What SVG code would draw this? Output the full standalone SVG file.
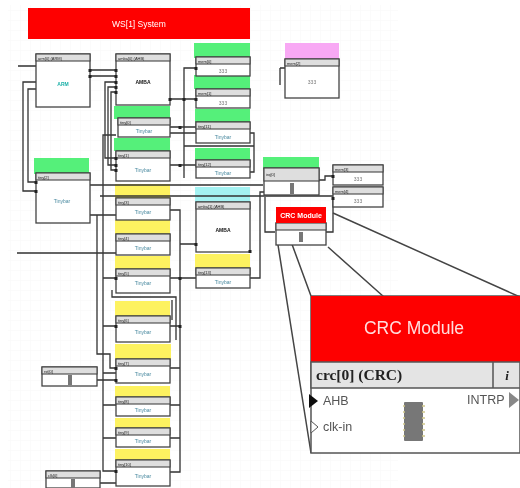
<svg xmlns="http://www.w3.org/2000/svg" width="520" height="488" viewBox="0 0 520 488">
<style>
.b{fill:#fff;stroke:#444;stroke-width:1.300}
.t{fill:#dedede;stroke:#444;stroke-width:1.100}
.c{fill:none;stroke:#333;stroke-width:1.300}
.z{fill:none;stroke:#444;stroke-width:1.500}
.g{fill:#55f07a}.y{fill:#fdf260}.cy{fill:#a4f2f2}.p{fill:#f8a8f4}.r{fill:#fe0000}
.n{font:4px "Liberation Sans",sans-serif;fill:#222}
.m{font:5px "Liberation Sans",sans-serif;fill:#4a8aa0;text-anchor:middle}
.a{font:bold 5px "Liberation Sans",sans-serif;fill:#111;text-anchor:middle}
.q{fill:#777}
.big{font:17.500px "Liberation Sans",sans-serif;fill:#ffdede;text-anchor:middle}
.port{font:12.500px "Liberation Sans",sans-serif;fill:#555}
</style>
<defs>
<filter id="s" x="-2%" y="-2%" width="104%" height="104%"><feGaussianBlur stdDeviation="0.45"/></filter>
<filter id="s2" x="-2%" y="-2%" width="104%" height="104%"><feGaussianBlur stdDeviation="0.35"/></filter>
<pattern id="grid" width="10" height="10" patternUnits="userSpaceOnUse"><path d="M10 0H0V10" fill="none" stroke="#f8f8f8" stroke-width="1"/></pattern>
</defs>
<rect width="520" height="488" fill="#fff"/>
<rect x="8" y="5" width="390" height="483" fill="url(#grid)"/>
<g filter="url(#s)">
<g id="banner"><rect class="r" x="28" y="8" width="222" height="31"/><text x="139" y="27" text-anchor="middle" font-family="Liberation Sans, sans-serif" font-size="8.500" fill="#fff">WS[1] System</text></g>
<g id="bands">
<rect class="g" x="194" y="43" width="56" height="15"/><rect class="g" x="194" y="75" width="56" height="14"/><rect class="g" x="195" y="109" width="55" height="13"/><rect class="g" x="195" y="148" width="55" height="12"/>
<rect class="g" x="114" y="106" width="56" height="13"/><rect class="g" x="114" y="138" width="56" height="13"/><rect class="g" x="34" y="158" width="55" height="16"/><rect class="g" x="263" y="157" width="56" height="12"/>
<rect class="y" x="115" y="184" width="55" height="14"/><rect class="y" x="115" y="220" width="55" height="14"/><rect class="y" x="115" y="256" width="55" height="13"/><rect class="y" x="115" y="301" width="55" height="15"/><rect class="y" x="115" y="344" width="56" height="15"/><rect class="y" x="115" y="386" width="55" height="11"/><rect class="y" x="115" y="418" width="55" height="10"/><rect class="y" x="115" y="449" width="55" height="11"/><rect class="y" x="195" y="254" width="55" height="14"/>
<rect class="cy" x="195" y="187" width="55" height="15"/><rect class="p" x="285" y="43" width="54" height="16"/>
</g>
<g id="connectors">
<path class="c" d="M90 70H116M90 76H116M18 66H36M36 82H23V191H36M36 89H28V182H36"/>
<path class="c" d="M116 82H105V158H116M116 87H108V165H116M116 92H111V170H116"/>
<path class="c" d="M170 99H196M196 68H184V178M170 127H196M170 133H196M184 146H254M170 165H196M250 133H254V172H250"/>
<path class="c" d="M90 185H263M100 196H333M90 215H116M97 215V354H110V368H116"/>
<path class="c" d="M116 135H103V471H116M103 278H116M103 326H116M103 373H116M103 405H116M103 438H116"/>
<path class="c" d="M170 210H180V472H170M170 278H196M170 326H180M170 368H180M170 405H180M170 438H180M180 244H196"/>
<path class="c" d="M17 253H116M97 380H116M100 483H116"/>
<path class="c" d="M112 290V297H176V340M172 300V320"/>
<path class="c" d="M250 278H260V192H264M265 197V232H275M333 197V232H326M319 180H325V176H333M280 68H285M280 68V85"/>
<path class="z" d="M278 245L311 453M282 217L311 296M328 247L384 297M333 213L520 297"/>
</g>
<g id="arm"><rect class="b" x="36" y="54" width="54" height="53"/><rect class="t" x="36" y="54" width="54" height="7"/><text class="n" x="38" y="60">arm[0] (ARM)</text><text class="m" x="63" y="86" style="fill:#1cb0a8;font-weight:bold">ARM</text></g>
<g id="amba1"><rect class="b" x="116" y="54" width="54" height="51"/><rect class="t" x="116" y="54" width="54" height="7"/><text class="n" x="118" y="60">amba[0] (AHB)</text><text class="a" x="143" y="84">AMBA</text></g>
<g id="tb1"><rect class="b" x="118" y="118" width="52" height="19"/><rect class="t" x="118" y="118" width="52" height="7"/><text class="n" x="120" y="124">tiny[0]</text><text class="m" x="144" y="133">Tinybar</text></g>
<g id="tb2"><rect class="b" x="116" y="151" width="54" height="30"/><rect class="t" x="116" y="151" width="54" height="7"/><text class="n" x="118" y="157">tiny[1]</text><text class="m" x="143" y="172">Tinybar</text></g>
<g id="tb3"><rect class="b" x="36" y="173" width="54" height="50"/><rect class="t" x="36" y="173" width="54" height="7"/><text class="n" x="38" y="179">tiny[2]</text><text class="m" x="62" y="203">Tinybar</text></g>
<g id="tb4"><rect class="b" x="116" y="198" width="54" height="22"/><rect class="t" x="116" y="198" width="54" height="7"/><text class="n" x="118" y="204">tiny[3]</text><text class="m" x="143" y="214">Tinybar</text></g>
<g id="tb5"><rect class="b" x="116" y="234" width="54" height="21"/><rect class="t" x="116" y="234" width="54" height="7"/><text class="n" x="118" y="240">tiny[4]</text><text class="m" x="143" y="250">Tinybar</text></g>
<g id="tb6"><rect class="b" x="116" y="269" width="54" height="24"/><rect class="t" x="116" y="269" width="54" height="7"/><text class="n" x="118" y="275">tiny[5]</text><text class="m" x="143" y="285">Tinybar</text></g>
<g id="tb7"><rect class="b" x="116" y="316" width="54" height="26"/><rect class="t" x="116" y="316" width="54" height="7"/><text class="n" x="118" y="322">tiny[6]</text><text class="m" x="143" y="334">Tinybar</text></g>
<g id="tb8"><rect class="b" x="116" y="359" width="54" height="24"/><rect class="t" x="116" y="359" width="54" height="7"/><text class="n" x="118" y="365">tiny[7]</text><text class="m" x="143" y="376">Tinybar</text></g>
<g id="tb9"><rect class="b" x="116" y="397" width="54" height="19"/><rect class="t" x="116" y="397" width="54" height="7"/><text class="n" x="118" y="403">tiny[8]</text><text class="m" x="143" y="412">Tinybar</text></g>
<g id="tb10"><rect class="b" x="116" y="428" width="54" height="19"/><rect class="t" x="116" y="428" width="54" height="7"/><text class="n" x="118" y="434">tiny[9]</text><text class="m" x="143" y="443">Tinybar</text></g>
<g id="tb11"><rect class="b" x="116" y="460" width="54" height="26"/><rect class="t" x="116" y="460" width="54" height="7"/><text class="n" x="118" y="466">tiny[10]</text><text class="m" x="143" y="478">Tinybar</text></g>
<g id="s1"><rect class="b" x="196" y="57" width="54" height="19"/><rect class="t" x="196" y="57" width="54" height="7"/><text class="n" x="198" y="63">mem[0]</text><text class="m" x="223" y="73" style="fill:#777">333</text></g>
<g id="s2n"><rect class="b" x="196" y="89" width="54" height="19"/><rect class="t" x="196" y="89" width="54" height="7"/><text class="n" x="198" y="95">mem[1]</text><text class="m" x="223" y="105" style="fill:#777">333</text></g>
<g id="s3"><rect class="b" x="196" y="122" width="54" height="21"/><rect class="t" x="196" y="122" width="54" height="7"/><text class="n" x="198" y="128">tiny[11]</text><text class="m" x="223" y="139">Tinybar</text></g>
<g id="s4"><rect class="b" x="196" y="160" width="54" height="18"/><rect class="t" x="196" y="160" width="54" height="7"/><text class="n" x="198" y="166">tiny[12]</text><text class="m" x="223" y="175">Tinybar</text></g>
<g id="amba2"><rect class="b" x="196" y="202" width="54" height="50"/><rect class="t" x="196" y="202" width="54" height="7"/><text class="n" x="198" y="208">amba[1] (AHB)</text><text class="a" x="223" y="232">AMBA</text></g>
<g id="s5"><rect class="b" x="196" y="268" width="54" height="20"/><rect class="t" x="196" y="268" width="54" height="7"/><text class="n" x="198" y="274">tiny[13]</text><text class="m" x="223" y="284">Tinybar</text></g>
<g id="pink"><rect class="b" x="285" y="59" width="54" height="39"/><rect class="t" x="285" y="59" width="54" height="7"/><text class="n" x="287" y="65">mem[2]</text><text class="m" x="312" y="84" style="fill:#777">333</text></g>
<g id="g5"><rect class="b" x="264" y="168" width="55" height="27"/><rect class="t" x="264" y="168" width="55" height="13"/><text class="n" x="266" y="176">irq[0]</text><rect class="q" x="290" y="183" width="4" height="11"/></g>
<g id="r1"><rect class="b" x="333" y="165" width="50" height="20"/><rect class="t" x="333" y="165" width="50" height="7"/><text class="n" x="335" y="171">mem[3]</text><text class="m" x="358" y="181" style="fill:#777">333</text></g>
<g id="r2"><rect class="b" x="333" y="187" width="50" height="20"/><rect class="t" x="333" y="187" width="50" height="7"/><text class="n" x="335" y="193">mem[4]</text><text class="m" x="358" y="203" style="fill:#777">333</text></g>
<g id="crcsmall"><rect class="b" x="276" y="223" width="50" height="22"/><rect class="t" x="276" y="223" width="50" height="7"/><rect class="r" x="276" y="207" width="50" height="16"/><text x="301" y="218" text-anchor="middle" font-family="Liberation Sans, sans-serif" font-size="7" font-weight="bold" fill="#fff">CRC Module</text><rect class="q" x="299" y="232" width="4" height="10"/></g>
<g id="lb1"><rect class="b" x="42" y="367" width="55" height="19"/><rect class="t" x="42" y="367" width="55" height="7"/><text class="n" x="44" y="373">rst[0]</text><rect class="q" x="68" y="375" width="4" height="10"/></g>
<g id="lb2"><rect class="b" x="46" y="471" width="54" height="17"/><rect class="t" x="46" y="471" width="54" height="7"/><text class="n" x="48" y="477">clk[0]</text><rect class="q" x="71" y="479" width="4" height="9"/></g>
<g id="ports" fill="#222"><rect x="88.500" y="69" width="3" height="3"/><rect x="88.500" y="75" width="3" height="3"/><rect x="114.500" y="69" width="3" height="3"/><rect x="114.500" y="75" width="3" height="3"/><rect x="114.500" y="81" width="3" height="3"/><rect x="114.500" y="86" width="3" height="3"/><rect x="114.500" y="91" width="3" height="3"/><rect x="168.500" y="98" width="3" height="3"/><rect x="34.500" y="181" width="3" height="3"/><rect x="34.500" y="190" width="3" height="3"/><rect x="114.500" y="157" width="3" height="3"/><rect x="114.500" y="164" width="3" height="3"/><rect x="114.500" y="169" width="3" height="3"/><rect x="114.500" y="277" width="3" height="3"/><rect x="114.500" y="325" width="3" height="3"/><rect x="114.500" y="367" width="3" height="3"/><rect x="114.500" y="379" width="3" height="3"/><rect x="114.500" y="470" width="3" height="3"/><rect x="178.500" y="126" width="3" height="3"/><rect x="182.500" y="98" width="3" height="3"/><rect x="178.500" y="164" width="3" height="3"/><rect x="178.500" y="277" width="3" height="3"/><rect x="178.500" y="325" width="3" height="3"/><rect x="194.500" y="67" width="3" height="3"/><rect x="194.500" y="98" width="3" height="3"/><rect x="194.500" y="243" width="3" height="3"/><rect x="248.500" y="250" width="3" height="3"/><rect x="331.500" y="175" width="3" height="3"/><rect x="331.500" y="197" width="3" height="3"/></g>
</g>
<g id="crcbig" filter="url(#s2)">
<rect x="311" y="296" width="209" height="157" fill="#fff" stroke="#555" stroke-width="1.500"/>
<rect class="r" x="311" y="296" width="209" height="66"/>
<rect x="311" y="362" width="209" height="26" fill="#e4e4e4" stroke="#555" stroke-width="1.500"/>
<path d="M493 362V388" stroke="#555" stroke-width="1.500"/>
<text class="big" x="414" y="334">CRC Module</text>
<text x="316" y="380" font-family="Liberation Serif, serif" font-size="15.500" font-weight="bold" fill="#222">crc[0] (CRC)</text>
<text x="507" y="380" font-family="Liberation Serif, serif" font-size="13" font-weight="bold" font-style="italic" text-anchor="middle" fill="#222">i</text>
<text class="port" x="323" y="405">AHB</text>
<text class="port" x="323" y="431">clk-in</text>
<text class="port" x="467" y="404">INTRP</text>
<path d="M309 394L318 401L309 408Z" fill="#111"/>
<path d="M311 421L318 427L311 433Z" fill="#fff" stroke="#555"/>
<path d="M509 392L519 400L509 408Z" fill="#888"/>
<rect x="404" y="402" width="19" height="39" rx="1" fill="#777"/>
<path d="M403 406H405M403 412H405M403 418H405M403 424H405M403 430H405M403 436H405M422 406H425M422 412H425M422 418H425M422 424H425M422 430H425M422 436H425" stroke="#cfc88a" stroke-width="1.500"/>
</g>
</svg>
